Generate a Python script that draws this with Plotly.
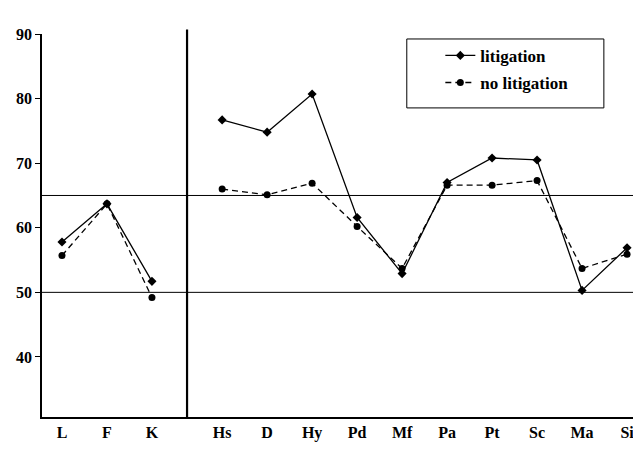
import plotly.graph_objects as go

validity_scales = ["L", "F", "K"]
clinical_scales = ["Hs", "D", "Hy", "Pd", "Mf", "Pa", "Pt", "Sc", "Ma", "Si"]

litigation_validity = [57.8, 63.7, 51.7]
litigation_clinical = [76.7, 74.8, 80.7, 61.6, 52.9, 67.0, 70.8, 70.5, 50.3, 56.9]
no_litigation_validity = [55.7, 63.7, 49.2]
no_litigation_clinical = [66.0, 65.1, 66.9, 60.2, 53.7, 66.6, 66.6, 67.3, 53.7, 55.9]

y_ticks = [40, 50, 60, 70, 80, 90]
reference_lines = [65, 50]

GAP = 1.56
x_valid = list(range(len(validity_scales)))
x_clin = [len(validity_scales) - 1 + GAP + i for i in range(len(clinical_scales))]
x_all = x_valid + [None] + x_clin
divider_x = (x_valid[-1] + x_clin[0]) / 2

SERIF = "Liberation Serif"
FONT = dict(family=SERIF, size=16, color="black", weight="bold")
LEGEND_FONT = dict(family=SERIF, size=17, color="black")

fig = go.Figure()
fig.add_trace(go.Scatter(
    x=x_all, y=litigation_validity + [None] + litigation_clinical,
    mode="lines+markers", name="<b>litigation</b>", legendgroup="a",
    line=dict(color="black", width=1.3),
    marker=dict(symbol="diamond", size=7, color="black"),
    connectgaps=False,
))
fig.add_trace(go.Scatter(
    x=x_all, y=no_litigation_validity + [None] + no_litigation_clinical,
    mode="lines+markers", name="<b>no litigation</b>", legendgroup="b",
    line=dict(color="black", width=1.3, dash="6px,4px"),
    marker=dict(symbol="circle", size=7, color="black"),
    connectgaps=False,
))

shapes = []
for v in reference_lines:
    shapes.append(dict(type="line", xref="paper", yref="y", x0=0, x1=1, y0=v, y1=v,
                       line=dict(color="black", width=1), layer="below"))
shapes.append(dict(type="line", xref="x", yref="paper", x0=divider_x, x1=divider_x,
                   y0=0, y1=1.012, line=dict(color="black", width=2.2)))
# legend box
shapes.append(dict(type="rect", xref="paper", yref="paper", x0=0.609, x1=0.938,
                   y0=0.807, y1=0.987, line=dict(color="black", width=1),
                   fillcolor="white", layer="below"))

fig.update_layout(
    width=633, height=445,
    margin=dict(l=34, r=0, t=26, b=36),
    paper_bgcolor="white", plot_bgcolor="white",
    font=FONT,
    showlegend=True,
    legend=dict(x=0.665, y=0.99, xanchor="left", yanchor="top",
                bgcolor="rgba(0,0,0,0)", borderwidth=0,
                font=LEGEND_FONT, tracegroupgap=2, itemwidth=30),
    shapes=shapes,
    xaxis=dict(range=[-0.444, 12.87], tickmode="array",
               tickvals=x_valid + x_clin,
               ticktext=validity_scales + clinical_scales,
               showline=True, linecolor="black", linewidth=2,
               ticks="", showgrid=False, zeroline=False, tickfont=FONT),
    yaxis=dict(range=[30.7, 90], tickmode="array", tickvals=y_ticks,
               showline=True, linecolor="black", linewidth=1.5,
               ticks="outside", ticklen=5, tickcolor="black",
               showgrid=False, zeroline=False, tickfont=FONT),
)

fig.write_html("out.html")
